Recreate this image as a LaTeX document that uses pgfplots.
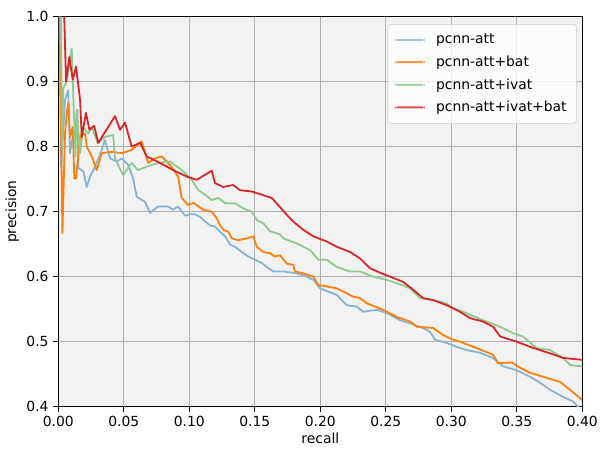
\documentclass[border=0pt]{standalone}
\usepackage{fontspec}
\setmainfont{DejaVu Sans}
\usepackage{pgfplots}
\pgfplotsset{compat=1.18}
\definecolor{lightblue}{HTML}{88B4D3}
\definecolor{taborange}{HTML}{FF7F0E}
\definecolor{lightgreen}{HTML}{8FC98F}
\definecolor{tabred}{HTML}{D62728}
\definecolor{bgface}{HTML}{F2F2F2}
\definecolor{gridgray}{HTML}{B0B0B0}
\begin{document}
\fontsize{10bp}{12bp}\selectfont
\begin{tikzpicture}
\begin{axis}[
  scale only axis,
  width=377.3bp, height=280.8bp,
  xmin=0, xmax=0.4, ymin=0.4, ymax=1.0,
  xtick={0,0.05,0.1,0.15,0.2,0.25,0.3,0.35,0.4},
  ytick={0.4,0.5,0.6,0.7,0.8,0.9,1.0},
  xticklabel style={/pgf/number format/.cd, fixed, fixed zerofill, precision=2},
  yticklabel style={/pgf/number format/.cd, fixed, fixed zerofill, precision=1},
  /pgf/number format/assume math mode=true,
  tick pos=left,
  tick align=outside,
  major tick length=3.5bp,
  tick style={black, line width=0.8bp},
  grid=major,
  grid style={gridgray, line width=0.8bp},
  axis background/.style={fill=bgface},
  axis line style={black, line width=1bp},
  xlabel={recall}, ylabel={precision},
  xlabel style={at={(axis description cs:0.5,-0.08)}, anchor=center},
  ylabel style={at={(axis description cs:-0.088,0.5)}, anchor=center},
  legend cell align=left,
  legend image code/.code={\path[#1, draw=none, fill] (0bp,-0.7bp) rectangle (21.6bp,0.7bp);},
  legend style={at={(rel axis cs:0.989,0.981)}, anchor=north east,
    draw=black!20, fill=white, fill opacity=0.8, text opacity=1, draw opacity=1,
    rounded corners=2bp, row sep=3.2bp, inner sep=5bp,
    /tikz/every odd column/.append style={column sep=6bp},
    font=\fontsize{10bp}{12bp}\selectfont},
  every axis plot/.append style={line width=1.3bp, line join=round},
]
% pcnn-att
\addplot[lightblue] coordinates {
(0.0010,1.0) (0.0021,0.769) (0.0051,0.872) (0.0076,0.887) (0.0089,0.790)
(0.0115,0.821) (0.0127,0.810) (0.0145,0.857) (0.0153,0.767) (0.0191,0.762)
(0.0217,0.738) (0.0242,0.754) (0.0280,0.769) (0.0331,0.795) (0.0356,0.810)
(0.0395,0.782) (0.0446,0.777) (0.0484,0.782) (0.0532,0.772) (0.0570,0.752)
(0.0598,0.723) (0.0662,0.715) (0.0700,0.698) (0.0761,0.708) (0.0837,0.708)
(0.0876,0.703) (0.0914,0.708) (0.0967,0.694) (0.1005,0.696) (0.1044,0.696)
(0.1082,0.692) (0.1120,0.685) (0.1158,0.679) (0.1196,0.677) (0.1234,0.669)
(0.1273,0.662) (0.1311,0.649) (0.1349,0.646) (0.1400,0.638) (0.1450,0.631)
(0.1502,0.626) (0.1553,0.621) (0.1603,0.613) (0.1641,0.608) (0.1718,0.608)
(0.1820,0.605) (0.1896,0.600) (0.1947,0.595) (0.1998,0.582) (0.2059,0.577)
(0.2125,0.572) (0.2202,0.556) (0.2278,0.554) (0.2326,0.546) (0.2431,0.549)
(0.2507,0.544) (0.2608,0.533) (0.2685,0.528) (0.2784,0.521) (0.2837,0.515)
(0.2876,0.503) (0.2965,0.498) (0.3041,0.492) (0.3117,0.487) (0.3219,0.483)
(0.3318,0.475) (0.3395,0.462) (0.3499,0.456) (0.3601,0.446) (0.3677,0.437)
(0.3753,0.426) (0.3853,0.415) (0.3929,0.408) (0.3967,0.400) (0.4000,0.395)
};
\addlegendentry{pcnn-att}
% pcnn-att+bat
\addplot[taborange] coordinates {
(0.0010,1.0) (0.0031,0.667) (0.0051,0.820) (0.0064,0.851) (0.0076,0.867)
(0.0089,0.815) (0.0110,0.830) (0.0122,0.751) (0.0135,0.751) (0.0150,0.780)
(0.0166,0.815) (0.0179,0.820) (0.0204,0.820) (0.0217,0.800) (0.0255,0.785)
(0.0293,0.764) (0.0331,0.790) (0.0408,0.792) (0.0484,0.790) (0.0560,0.795)
(0.0637,0.808) (0.0685,0.775) (0.0738,0.782) (0.0789,0.785) (0.0853,0.772)
(0.0914,0.754) (0.0942,0.721) (0.0992,0.710) (0.1031,0.714) (0.1069,0.708)
(0.1107,0.703) (0.1171,0.700) (0.1209,0.690) (0.1234,0.679) (0.1260,0.672)
(0.1298,0.669) (0.1324,0.659) (0.1374,0.656) (0.1438,0.659) (0.1489,0.662)
(0.1515,0.646) (0.1565,0.638) (0.1616,0.636) (0.1654,0.631) (0.1692,0.633)
(0.1744,0.620) (0.1794,0.618) (0.1807,0.608) (0.1870,0.605) (0.1947,0.600)
(0.1985,0.587) (0.2049,0.585) (0.2125,0.582) (0.2176,0.577) (0.2252,0.569)
(0.2303,0.567) (0.2354,0.559) (0.2479,0.549) (0.2583,0.538) (0.2685,0.531)
(0.2736,0.523) (0.2860,0.521) (0.2937,0.510) (0.3013,0.503) (0.3066,0.500)
(0.3194,0.490) (0.3318,0.480) (0.3356,0.467) (0.3461,0.468) (0.3524,0.460)
(0.3601,0.452) (0.3700,0.446) (0.3830,0.438) (0.3906,0.426) (0.3983,0.413)
(0.4000,0.410)
};
\addlegendentry{pcnn-att+bat}
% pcnn-att+ivat
\addplot[lightgreen] coordinates {
(0.0020,1.0) (0.0028,0.800) (0.0038,0.890) (0.0064,0.900) (0.0102,0.951)
(0.0130,0.785) (0.0140,0.857) (0.0166,0.790) (0.0191,0.830) (0.0227,0.820)
(0.0255,0.830) (0.0303,0.805) (0.0356,0.815) (0.0418,0.818) (0.0433,0.782)
(0.0494,0.756) (0.0560,0.775) (0.0608,0.764) (0.0685,0.770) (0.0761,0.775)
(0.0853,0.777) (0.0942,0.764) (0.1018,0.749) (0.1069,0.733) (0.1120,0.726)
(0.1171,0.718) (0.1221,0.721) (0.1273,0.713) (0.1349,0.713) (0.1412,0.705)
(0.1476,0.700) (0.1515,0.687) (0.1565,0.682) (0.1616,0.670) (0.1692,0.665)
(0.1718,0.659) (0.1820,0.651) (0.1921,0.641) (0.1985,0.626) (0.2049,0.626)
(0.2125,0.615) (0.2227,0.608) (0.2303,0.608) (0.2402,0.600) (0.2507,0.595)
(0.2583,0.590) (0.2685,0.582) (0.2761,0.567) (0.2860,0.564) (0.2965,0.559)
(0.2990,0.554) (0.3089,0.546) (0.3242,0.533) (0.3372,0.523) (0.3471,0.513)
(0.3547,0.508) (0.3652,0.490) (0.3753,0.487) (0.3853,0.475) (0.3906,0.464)
(0.4000,0.462)
};
\addlegendentry{pcnn-att+ivat}
% pcnn-att+ivat+bat
\addplot[tabred] coordinates {
(0.0045,1.0) (0.0059,0.900) (0.0084,0.938) (0.0110,0.903) (0.0135,0.923)
(0.0166,0.872) (0.0179,0.815) (0.0211,0.852) (0.0237,0.826) (0.0273,0.832)
(0.0305,0.806) (0.0433,0.847) (0.0471,0.826) (0.0509,0.837) (0.0560,0.800)
(0.0624,0.806) (0.0675,0.785) (0.0776,0.775) (0.0876,0.764) (0.0980,0.754)
(0.1056,0.749) (0.1171,0.763) (0.1196,0.744) (0.1257,0.738) (0.1334,0.741)
(0.1387,0.733) (0.1476,0.731) (0.1553,0.726) (0.1629,0.721) (0.1679,0.710)
(0.1744,0.695) (0.1792,0.685) (0.1870,0.672) (0.1947,0.662) (0.2049,0.654)
(0.2125,0.646) (0.2227,0.638) (0.2303,0.628) (0.2379,0.613) (0.2456,0.606)
(0.2532,0.600) (0.2631,0.592) (0.2708,0.580) (0.2784,0.567) (0.2860,0.564)
(0.2965,0.556) (0.3066,0.546) (0.3143,0.536) (0.3242,0.531) (0.3318,0.523)
(0.3372,0.508) (0.3499,0.500) (0.3601,0.492) (0.3753,0.482) (0.3853,0.475)
(0.4000,0.472)
};
\addlegendentry{pcnn-att+ivat+bat}
\end{axis}
\pgfresetboundingbox
\path[use as bounding box] ([xshift=-42bp,yshift=-31.9bp]current axis.south west)
  rectangle ([xshift=12.7bp,yshift=12bp]current axis.north east);
\end{tikzpicture}
\end{document}
